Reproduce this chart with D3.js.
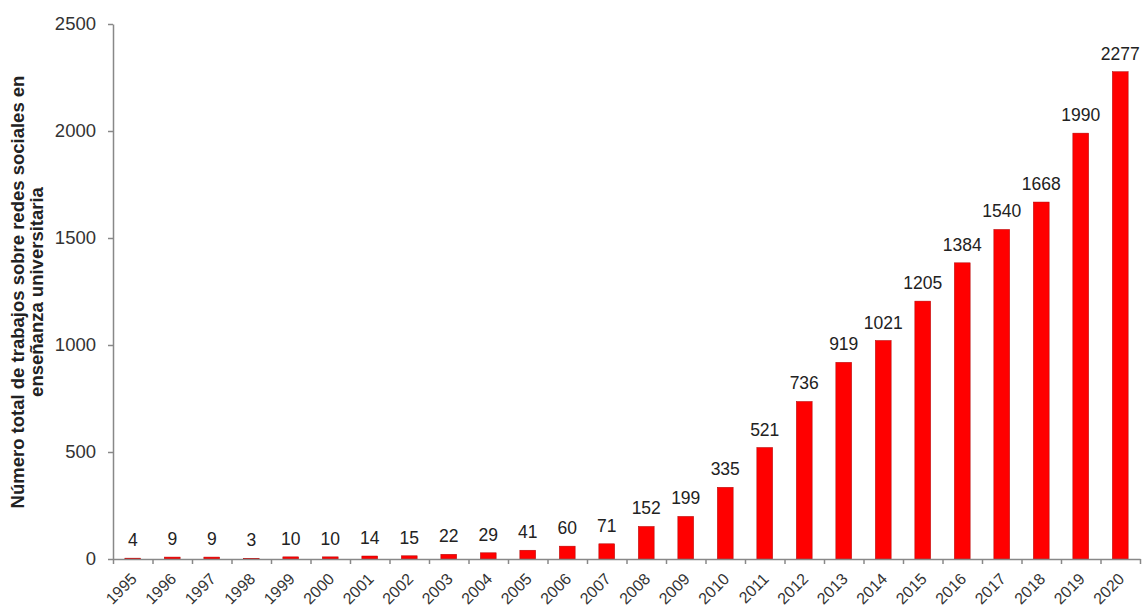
<!DOCTYPE html>
<html>
<head>
<meta charset="utf-8">
<script src="https://cdn.jsdelivr.net/npm/d3@7"></script>
<style>
  html, body { margin: 0; padding: 0; background: #fff; }
  svg { display: block; font-family: Arial, "Liberation Sans", sans-serif; }
</style>
</head>
<body>
<svg id="chart" width="1145" height="610"></svg>
<script>
const years = ["1995","1996","1997","1998","1999","2000","2001","2002","2003","2004","2005","2006","2007","2008","2009","2010","2011","2012","2013","2014","2015","2016","2017","2018","2019","2020"];
const values = [4,9,9,3,10,10,14,15,22,29,41,60,71,152,199,335,521,736,919,1021,1205,1384,1540,1668,1990,2277];
const yTicks = [0,500,1000,1500,2000,2500];
const yLabelLines = ["Número total de trabajos sobre redes sociales en", "enseñanza universitaria"];

const svg = d3.select("#chart");
const mLeft = 113, mRight = 1140, mTop = 24, mBottom = 559;
const FONT = "Arial, 'Liberation Sans', sans-serif";

const x = d3.scaleBand().domain(years).range([mLeft, mRight]).paddingInner(0.6).paddingOuter(0.3);
const y = d3.scaleLinear().domain([0, 2500]).range([mBottom, mTop]);
const xb = d3.scaleLinear().domain([0, years.length]).range([mLeft, mRight]);

// bars
svg.append("g").selectAll("rect").data(values).join("rect")
  .attr("x", (d, i) => x(years[i]))
  .attr("y", d => y(d))
  .attr("width", x.bandwidth())
  .attr("height", d => mBottom - y(d))
  .attr("fill", "#ff0000")
  .attr("stroke", "#b00000")
  .attr("stroke-width", 0.5);

// value labels
svg.append("g").selectAll("text").data(values).join("text")
  .attr("x", (d, i) => x(years[i]) + x.bandwidth() / 2)
  .attr("y", d => y(d) - 12)
  .attr("text-anchor", "middle")
  .attr("font-size", 17.5)
  .attr("fill", "#222")
  .text(d => d);

// y axis
const yAxis = svg.append("g").attr("transform", `translate(${mLeft},0)`)
  .call(d3.axisLeft(y).tickValues(yTicks).tickFormat(d3.format("d")).tickSize(5).tickSizeOuter(0).tickPadding(12));
yAxis.select(".domain").attr("stroke", "#888").attr("stroke-width", 1.5);
yAxis.selectAll(".tick line").attr("stroke", "#888").attr("stroke-width", 1.5);
yAxis.selectAll(".tick text").attr("font-size", 18.5).attr("fill", "#333").attr("font-family", FONT);

// x axis boundary ticks
const xAxis = svg.append("g").attr("transform", `translate(0,${mBottom})`)
  .call(d3.axisBottom(xb).tickValues(d3.range(0, years.length + 1)).tickSize(5).tickSizeOuter(0).tickFormat(""));
xAxis.select(".domain").attr("stroke", "#888").attr("stroke-width", 1.5);
xAxis.selectAll(".tick line").attr("stroke", "#888").attr("stroke-width", 1.5);

// x labels
const xLab = svg.append("g").attr("transform", `translate(0,${mBottom})`)
  .call(d3.axisBottom(x).tickSize(0).tickPadding(0));
xLab.select(".domain").remove();
xLab.selectAll(".tick text")
  .attr("font-size", 16).attr("fill", "#333")
  .attr("font-family", FONT)
  .attr("text-anchor", "end")
  .attr("y", 0)
  .attr("dy", null)
  .attr("transform", "translate(5,21) rotate(-45)");

// y label
const yl = svg.append("text")
  .attr("transform", "translate(24,292) rotate(-90)")
  .attr("text-anchor", "middle")
  .attr("font-size", 18.5)
  .attr("font-weight", "bold")
  .attr("fill", "#222");
yl.selectAll("tspan").data(yLabelLines).join("tspan")
  .attr("x", 0)
  .attr("dy", (d, i) => i === 0 ? 0 : 19)
  .text(d => d);
</script>
</body>
</html>
